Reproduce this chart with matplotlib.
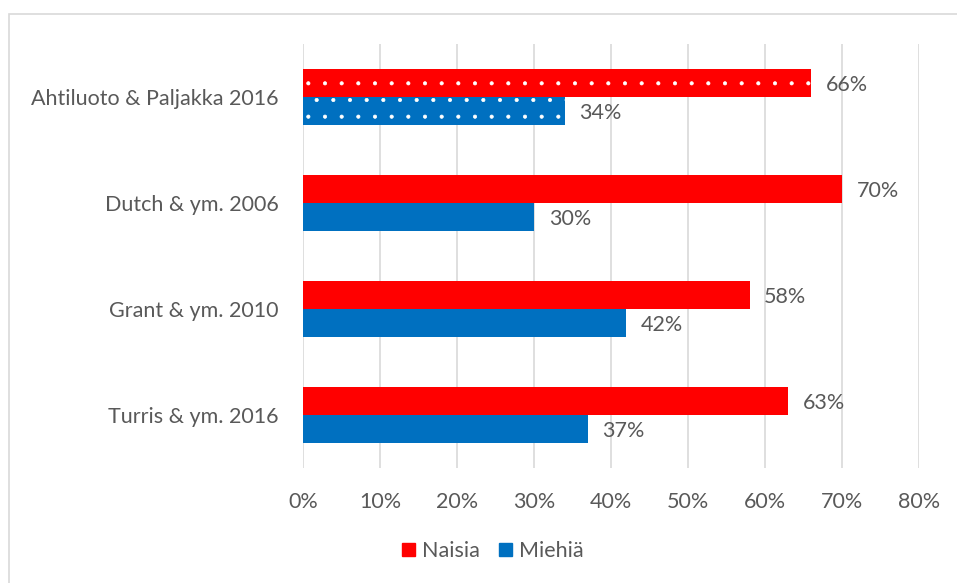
import matplotlib.pyplot as plt
import numpy as np
from matplotlib.patches import Rectangle
from matplotlib.ticker import FuncFormatter

plt.rcParams['font.family'] = ['Lato', 'DejaVu Sans']
plt.rcParams['hatch.linewidth'] = 0.5

# Data
studies = ['Ahtiluoto & Paljakka 2016', 'Dutch & ym. 2006', 'Grant & ym. 2010', 'Turris & ym. 2016']
naisia = [66, 70, 58, 63]
miehia = [34, 30, 42, 37]
hatched = [True, False, False, False]

red = '#FF0000'
blue = '#0070C0'
text_col = '#595959'
grid_col = '#D9D9D9'
fs = 15.5

fig = plt.figure(figsize=(9.57, 5.83), dpi=100)
ax = fig.add_axes([303 / 957, 1 - 468 / 583, 616 / 957, 424 / 583])

# outer chart frame (cropped on right and bottom)
fig.patches.append(Rectangle((9 / 957, -0.1), 1.2, 1 - 14 / 583 + 0.1,
                             transform=fig.transFigure, fill=False,
                             edgecolor=grid_col, linewidth=1.2))

y = np.arange(len(studies))
h = 0.26
for i in range(len(studies)):
    hatch = '.' if hatched[i] else None
    ax.barh(y[i] - h / 2, naisia[i], height=h, color=red,
            edgecolor='white' if hatch else red, linewidth=0, hatch=hatch)
    ax.barh(y[i] + h / 2, miehia[i], height=h, color=blue,
            edgecolor='white' if hatch else blue, linewidth=0, hatch=hatch)
    ax.text(naisia[i] + 1.9, y[i] - h / 2 + 0.02, f'{naisia[i]}%', va='center', ha='left',
            fontsize=fs, color=text_col)
    ax.text(miehia[i] + 1.9, y[i] + h / 2 + 0.02, f'{miehia[i]}%', va='center', ha='left',
            fontsize=fs, color=text_col)

ax.set_xlim(0, 80)
ax.set_ylim(len(studies) - 0.5, -0.5)
ax.set_xticks(np.arange(0, 81, 10))
ax.xaxis.set_major_formatter(FuncFormatter(lambda v, p: f'{v:.0f}%'))
ax.set_yticks(y)
ax.set_yticklabels(studies)
ax.grid(axis='x', color=grid_col, linewidth=1.2)
ax.set_axisbelow(True)
for s in ax.spines.values():
    s.set_visible(False)
ax.tick_params(axis='both', length=0, labelsize=fs, colors=text_col)
ax.tick_params(axis='x', pad=17)
ax.tick_params(axis='y', pad=17.5)

handles = [Rectangle((0, 0), 1, 1, color=red), Rectangle((0, 0), 1, 1, color=blue)]
fig.legend(handles, ['Naisia', 'Miehiä'], loc='center', bbox_to_anchor=(493 / 957, 1 - 551 / 583),
           ncol=2, frameon=False, fontsize=fs, handlelength=0.58, handleheight=0.58,
           handletextpad=0.33, columnspacing=0.9, labelcolor=text_col)

fig.savefig('out.png', dpi=100)
